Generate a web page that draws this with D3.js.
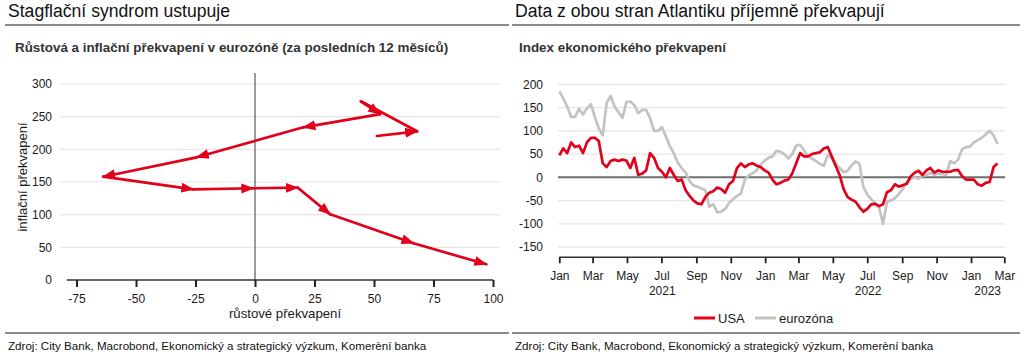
<!DOCTYPE html>
<html><head><meta charset="utf-8">
<script src="https://cdn.jsdelivr.net/npm/d3@7/dist/d3.min.js"></script>
<style>
body{margin:0;background:#fff;}
svg{display:block;font-family:"Liberation Sans",Arial,sans-serif;}
</style></head>
<body>
<svg id="c" width="1024" height="355"></svg>
<script>
// ---------- DATA ----------
// Left chart: growth vs inflation surprise path (chronological)
const growth    = [51.2, 68.1, 44.5, 52.6, 20.3, -24.5, -63.8, -25.9, -0.7, 18.0, 31.6, 66.6, 97.2];
const inflation = [220.4, 227.6, 273.5, 254, 233.7, 187.8, 158.1, 138.8, 140.4, 141.3, 100.5, 56.2, 24.0];
const arrowAtPoint = [false, true, false, true, true, true, true, true, true, true, true, true, true];
const leftXTicks = [-75, -50, -25, 0, 25, 50, 75, 100];
const leftYTicks = [0, 50, 100, 150, 200, 250, 300];

// Right chart: weekly economic surprise index, starting 2021-01-01
const seriesStart = "2021-01-01";
const usa = [47,62,52,75,65,68,52,75,85,85,78,30,22,35,38,35,38,36,20,42,5,8,15,52,42,20,12,0,20,5,
  -8,-5,-28,-40,-50,-56,-58,-42,-33,-30,-22,-25,-33,-15,-8,20,30,22,28,30,25,22,15,10,-5,-15,-12,-7,-5,8,
  30,52,45,45,50,52,54,62,65,45,25,5,-25,-42,-48,-52,-64,-74,-68,-58,-57,-62,-58,-32,-28,-15,-20,-17,-14,2,
  10,14,5,15,20,10,15,12,12,12,15,16,3,-5,-5,-5,-15,-18,-12,-10,22,30];
const eurozone = [185,170,152,130,130,147,135,148,157,130,105,90,160,175,152,140,128,162,163,155,138,145,145,127,100,100,108,88,67,52,
  32,20,10,-8,-18,-20,-24,-28,-63,-58,-75,-74,-68,-55,-47,-40,-35,-5,4,9,15,27,36,42,45,57,55,50,40,50,
  68,70,58,45,40,35,29,25,48,42,30,20,11,14,25,34,30,-20,-37,-47,-55,-65,-100,-52,-50,-45,-36,-25,-10,-3,
  0,-3,3,5,10,5,8,7,5,35,30,38,60,65,66,75,80,85,92,100,90,72];
const rightYTicks = [-150, -100, -50, 0, 50, 100, 150, 200];
const monthLabels = ["Jan","Feb","Mar","Apr","May","Jun","Jul","Aug","Sep","Oct","Nov","Dec"];
const years = ["2021","2022","2023"];
const seriesNames = ["USA", "eurozóna"];

// ---------- STYLE ----------
const RED = "#e2001a", GRAY = "#c3c3c3", TXT = "#1a1a1a";
const svg = d3.select("#c");

// Headers / footers
function panelFrame(x0, x1, title, subtitle, subX) {
  svg.append("text").attr("x", x0 + 3).attr("y", 16.5).attr("font-size", 17.6).attr("fill", "#111").text(title);
  svg.append("line").attr("x1", x0).attr("x2", x1).attr("y1", 25).attr("y2", 25).attr("stroke", "#8a8a8a").attr("stroke-width", 2);
  svg.append("text").attr("x", subX).attr("y", 51.5).attr("font-size", 13.4).attr("font-weight", "bold").attr("fill", "#333").text(subtitle);
  svg.append("line").attr("x1", x0).attr("x2", x1).attr("y1", 333).attr("y2", 333).attr("stroke", "#8a8a8a").attr("stroke-width", 2);
  svg.append("text").attr("x", x0 + 3).attr("y", 350).attr("font-size", 11.6).attr("fill", "#111")
    .text("Zdroj: City Bank, Macrobond, Ekonomický a strategický výzkum, Komerèní banka");
}
panelFrame(5, 509, "Stagflační syndrom ustupuje", "Růstová a inflační překvapení v eurozóně (za posledních 12 měsíců)", 15);
panelFrame(512, 1020, "Data z obou stran Atlantiku příjemně překvapují", "Index ekonomického překvapení", 519);

// ---------- LEFT CHART ----------
const xL = d3.scaleLinear().domain([-79, 100]).range([67, 493]);
const yL = d3.scaleLinear().domain([0, 300]).range([280, 84]);

const gL = svg.append("g");
gL.selectAll(".gl").data(leftYTicks.filter(d => d > 0)).enter().append("line")
  .attr("x1", 60).attr("x2", 500).attr("y1", d => yL(d)).attr("y2", d => yL(d))
  .attr("stroke", "#e6e6e6").attr("stroke-width", 1.2);
gL.selectAll(".yl").data(leftYTicks).enter().append("text")
  .attr("x", 52).attr("y", d => yL(d)).attr("dy", "0.36em").attr("text-anchor", "end")
  .attr("font-size", 12).attr("fill", TXT).text(d => d);
// vertical zero line
gL.append("line").attr("x1", xL(0)).attr("x2", xL(0)).attr("y1", 73).attr("y2", yL(0))
  .attr("stroke", "#7a7a7a").attr("stroke-width", 1.5);
// x axis
const axL = gL.append("g").attr("transform", `translate(0,${yL(0)})`)
  .call(d3.axisBottom(xL).tickValues(leftXTicks).tickSize(7).tickPadding(7).tickFormat(d => String(d)));
axL.select(".domain").attr("stroke", "#333").attr("stroke-width", 1.5).attr("d", `M${xL(-79)},0H${xL(100)}`);
axL.selectAll(".tick line").attr("stroke", "#222").attr("stroke-width", 2);
axL.selectAll(".tick text").attr("font-size", 12).attr("fill", TXT).attr("font-family", "Liberation Sans, Arial, sans-serif");
gL.append("text").attr("x", 285).attr("y", 318).attr("text-anchor", "middle").attr("font-size", 13.2).attr("fill", TXT).text("růstové překvapení");
gL.append("text").attr("transform", "translate(27,177) rotate(-90)").attr("text-anchor", "middle")
  .attr("font-size", 13).attr("fill", TXT).text("inflační překvapení");

// arrow marker
svg.append("defs").append("marker").attr("id", "arr")
  .attr("markerUnits", "userSpaceOnUse").attr("markerWidth", 14).attr("markerHeight", 12)
  .attr("viewBox", "0 -6 14 12").attr("refX", 12).attr("refY", 0).attr("orient", "auto")
  .append("path").attr("d", "M0,-5L13,0L0,5Z").attr("fill", RED);

const pts = growth.map((g, i) => ({ g, f: inflation[i], a: arrowAtPoint[i] }));
const segs = pts.slice(1).map((p, i) => ({ s: pts[i], e: p }));
gL.selectAll(".seg").data(segs).enter().append("line")
  .attr("x1", d => xL(d.s.g)).attr("y1", d => yL(d.s.f))
  .attr("x2", d => xL(d.e.g)).attr("y2", d => yL(d.e.f))
  .attr("stroke", RED).attr("stroke-width", 2.7).attr("stroke-linecap", "round")
  .attr("marker-end", d => d.e.a ? "url(#arr)" : null);

// ---------- RIGHT CHART ----------
const parse = d3.timeParse("%Y-%m-%d");
const t0 = parse(seriesStart);
const dates = usa.map((_, i) => d3.timeDay.offset(t0, 7 * i));
const xR = d3.scaleTime().domain([parse("2021-01-01"), parse("2023-03-01")]).range([559.3, 1004.3]);
const yR = d3.scaleLinear().domain([-172, 200]).range([257.3, 84.3]);

const gR = svg.append("g");
gR.selectAll(".gr").data(rightYTicks.filter(d => d !== 0)).enter().append("line")
  .attr("x1", 558).attr("x2", 1005).attr("y1", d => yR(d)).attr("y2", d => yR(d))
  .attr("stroke", "#e6e6e6").attr("stroke-width", 1.2);
gR.selectAll(".yr").data(rightYTicks).enter().append("text")
  .attr("x", 543).attr("y", d => yR(d)).attr("dy", "0.36em").attr("text-anchor", "end")
  .attr("font-size", 12).attr("fill", TXT).text(d => d);
gR.append("line").attr("x1", 558).attr("x2", 1005).attr("y1", yR(0)).attr("y2", yR(0))
  .attr("stroke", "#6e6e6e").attr("stroke-width", 2);

const monthTicks = d3.timeMonth.every(2).range(parse("2021-01-01"), d3.timeDay.offset(parse("2023-03-01"), 1));
const axR = gR.append("g").attr("transform", `translate(0,${yR(-172)})`)
  .call(d3.axisBottom(xR).tickValues(monthTicks).tickSize(6).tickPadding(8).tickFormat(d => monthLabels[d.getMonth()]));
axR.select(".domain").attr("stroke", "#333").attr("stroke-width", 1.5).attr("d", `M${xR.range()[0]},0H${xR.range()[1]}`);
axR.selectAll(".tick line").attr("stroke", "#222").attr("stroke-width", 1.8);
axR.selectAll(".tick text").attr("font-size", 12).attr("fill", TXT).attr("font-family", "Liberation Sans, Arial, sans-serif");
// year labels centred on each year's span within the domain
gR.selectAll(".yr2").data(years).enter().append("text")
  .attr("x", y => {
    const a = d3.max([parse(y + "-01-01"), xR.domain()[0]]);
    const b = d3.min([parse((+y + 1) + "-01-01"), xR.domain()[1]]);
    return (xR(a) + xR(b)) / 2;
  })
  .attr("y", 295).attr("text-anchor", "middle").attr("font-size", 12).attr("fill", TXT).text(d => d);

const lineGen = d3.line().x((d, i) => xR(dates[i])).y(d => yR(d)).curve(d3.curveLinear);
gR.append("path").datum(eurozone).attr("d", lineGen).attr("fill", "none").attr("stroke", GRAY).attr("stroke-width", 2.7).attr("stroke-linejoin", "round");
gR.append("path").datum(usa).attr("d", lineGen).attr("fill", "none").attr("stroke", RED).attr("stroke-width", 2.7).attr("stroke-linejoin", "round");

// legend
const leg = [{ n: seriesNames[0], c: RED, x: 694 }, { n: seriesNames[1], c: GRAY, x: 755 }];
const lg = gR.selectAll(".lg").data(leg).enter().append("g").attr("transform", d => `translate(${d.x},318)`);
lg.append("line").attr("x1", 0).attr("x2", 21).attr("stroke", d => d.c).attr("stroke-width", 3);
lg.append("text").attr("x", 24).attr("dy", "0.36em").attr("font-size", 13).attr("fill", TXT).text(d => d.n);
</script>
</body></html>
